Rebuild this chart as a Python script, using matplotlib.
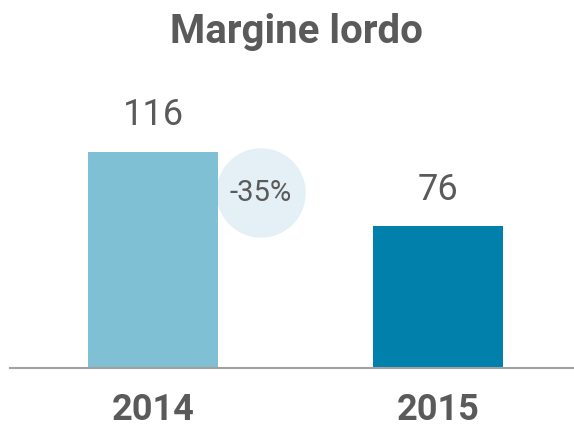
import matplotlib
matplotlib.use("Agg")
import matplotlib.pyplot as plt
from matplotlib.patches import Ellipse

# data
years = ["2014", "2015"]
values = [116, 76]
change_label = "-35%"
title = "Margine lordo"

bar_colors = ["#80c0d4", "#0080ab"]
text_color = "#5a5a5a"

plt.rcParams['font.family'] = ['Roboto', 'DejaVu Sans']

fig = plt.figure(figsize=(5.74, 4.28), dpi=100)
ax = fig.add_axes([0, 0, 1, 1])

x = list(range(len(years)))
ax.bar(x, values, width=0.456, color=bar_colors, zorder=2)

# value labels above bars
for xi, v in zip(x, values):
    ax.text(xi, v + 10, str(v), ha="center", va="bottom",
            fontsize=26, color=text_color)

# year labels under baseline
for xi, y in zip(x, years):
    ax.text(xi, -22.5, y, ha="center", va="center",
            fontsize=26, fontweight="bold", color=text_color)

# change bubble between bars (ellipse so it stays round in pixel space)
cx, cy = 0.379, 94.0
ax.add_patch(Ellipse((cx, cy), 88 / 285, 88 / 1.862, color="#e4f0f6", zorder=1))
ax.text(cx, cy, change_label, ha="center", va="center",
        fontsize=21, color=text_color, zorder=3)

ax.axhline(0, xmin=10 / 574, xmax=1, color="#a0a0a0", lw=1.5, zorder=3)

ax.set_xlim(-0.537, 1.477)
ax.set_ylim(-32.2, 197.6)
ax.axis("off")

fig.text(0.517, 0.925, title, ha="center", va="center",
         fontsize=29, fontweight="bold", color=text_color)

fig.savefig("out.png", dpi=100)
